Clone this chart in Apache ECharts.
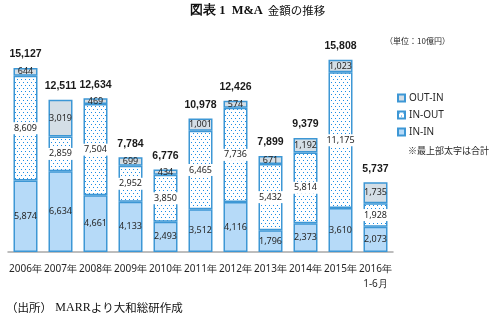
<!DOCTYPE html>
<html>
<head>
<meta charset="utf-8">
<script src="https://cdn.jsdelivr.net/npm/echarts@6/dist/echarts.min.js"></script>
<style>
  html, body { margin: 0; padding: 0; background: #fff; }
  #chart { width: 498px; height: 325px; }
</style>
</head>
<body>
<div id="chart"></div>
<script>
// M&A amounts by type (単位：10億円)
const years = ['2006年', '2007年', '2008年', '2009年', '2010年', '2011年', '2012年', '2013年', '2014年', '2015年', '2016年\n1-6月'];
const inIn   = [5874, 6634, 4661, 4133, 2493, 3512, 4116, 1796, 2373, 3610, 2073];
const inOut  = [8609, 2859, 7504, 2952, 3850, 6465, 7736, 5432, 5814, 11175, 1928];
const outIn  = [644, 3019, 469, 699, 434, 1001, 574, 671, 1192, 1023, 1735];
const totals = [15127, 12511, 12634, 7784, 6776, 10978, 12426, 7899, 9379, 15808, 5737];

const BLUE = '#3d97d5';
const TEXT = '#262626';

// dotted fill for the IN-OUT segments: offset rows of single dots
function dotPattern() {
  const c = document.createElement('canvas');
  c.width = 4; c.height = 6;
  const ctx = c.getContext('2d');
  ctx.fillStyle = '#ffffff';
  ctx.fillRect(0, 0, 4, 6);
  ctx.fillStyle = '#1a8de6';
  ctx.fillRect(1, 1, 1, 1);
  ctx.fillRect(3, 4, 1, 1);
  return c;
}

const fmt = v => v.toLocaleString('en-US');
const segLabel = {
  show: true,
  position: 'inside',
  fontSize: 9,
  fontFamily: 'Noto Sans, sans-serif',
  color: TEXT,
  formatter: p => fmt(p.value)
};

const chart = echarts.init(document.getElementById('chart'), null, { renderer: 'canvas' });

const common = { type: 'bar', stack: 'm', barWidth: 24, barGap: '-100%' };

chart.setOption({
  animation: false,
  backgroundColor: '#fff',
  title: {
    text: '{s|図表 1  M&A} {g|金額の推移}',
    left: 185,
    top: -3,
    textStyle: {
      fontWeight: 'normal',
      rich: {
        s: { fontFamily: 'Liberation Serif, serif', fontSize: 12.5, fontWeight: 'bold', color: '#111' },
        g: { fontFamily: 'Noto Sans CJK JP, sans-serif', fontSize: 11.5, fontWeight: 'normal', color: '#111' }
      }
    }
  },
  legend: {
    orient: 'vertical',
    left: 397,
    top: 92,
    padding: 0,
    icon: 'rect',
    itemWidth: 7,
    itemHeight: 7,
    itemGap: 5,
    data: ['OUT-IN', 'IN-OUT', 'IN-IN'],
    textStyle: { fontSize: 10, color: TEXT, fontFamily: 'Noto Sans, sans-serif', lineHeight: 12, padding: [0, 0, 0, -1] }
  },
  grid: { left: 8, right: 105, top: 57.4, bottom: 73, containLabel: false },
  xAxis: {
    type: 'category',
    data: years,
    axisTick: { show: false },
    axisLine: { lineStyle: { color: '#a8a8a8', width: 1.5 } },
    axisLabel: {
      interval: 0,
      margin: 10,
      fontSize: 10,
      lineHeight: 15,
      color: TEXT,
      fontFamily: 'Noto Sans, sans-serif'
    }
  },
  yAxis: { type: 'value', min: 0, max: 16000, show: false, splitLine: { show: false } },
  graphic: [
    {
      type: 'text', left: 385, top: 37,
      style: { text: '（単位：10億円）', fontSize: 8, fill: TEXT, fontFamily: 'Noto Sans CJK JP, sans-serif' }
    },
    {
      type: 'text', left: 408, top: 146,
      style: { text: '※最上部太字は合計', fontSize: 9, fill: TEXT, fontFamily: 'Noto Sans CJK JP, sans-serif' }
    },
    {
      type: 'text', left: 6, top: 302,
      style: {
        text: '{a|（出所）} {b|MARR}{a|より大和総研作成}',
        rich: {
          a: { fontSize: 11.5, fill: '#111', fontFamily: 'Noto Sans CJK JP, sans-serif' },
          b: { fontSize: 12, fill: '#111', fontFamily: 'Liberation Serif, serif' }
        }
      }
    }
  ],
  series: [
    Object.assign({}, common, {
      name: 'IN-IN',
      data: inIn,
      itemStyle: { color: '#b6daf8', borderColor: BLUE, borderWidth: 1.5 },
      label: segLabel
    }),
    Object.assign({}, common, {
      name: 'IN-OUT',
      data: inOut,
      itemStyle: { color: { image: dotPattern(), repeat: 'repeat' }, borderColor: BLUE, borderWidth: 1.5 },
      label: Object.assign({}, segLabel, { backgroundColor: '#fff', padding: [2, 2, 1, 2] })
    }),
    Object.assign({}, common, {
      name: 'OUT-IN',
      data: outIn,
      itemStyle: { color: '#d4dee6', borderColor: BLUE, borderWidth: 1.5 },
      label: segLabel
    }),
    {
      type: 'bar',
      name: '合計',
      barWidth: 24,
      barGap: '-100%',
      data: totals,
      z: 1,
      silent: true,
      itemStyle: { color: 'rgba(0,0,0,0)' },
      label: {
        show: true,
        position: 'top',
        distance: 8,
        fontSize: 10.5,
        fontWeight: 'bold',
        color: '#1a1a1a',
        fontFamily: 'Liberation Sans, sans-serif',
        formatter: p => fmt(p.value)
      }
    }
  ]
});
</script>
</body>
</html>
